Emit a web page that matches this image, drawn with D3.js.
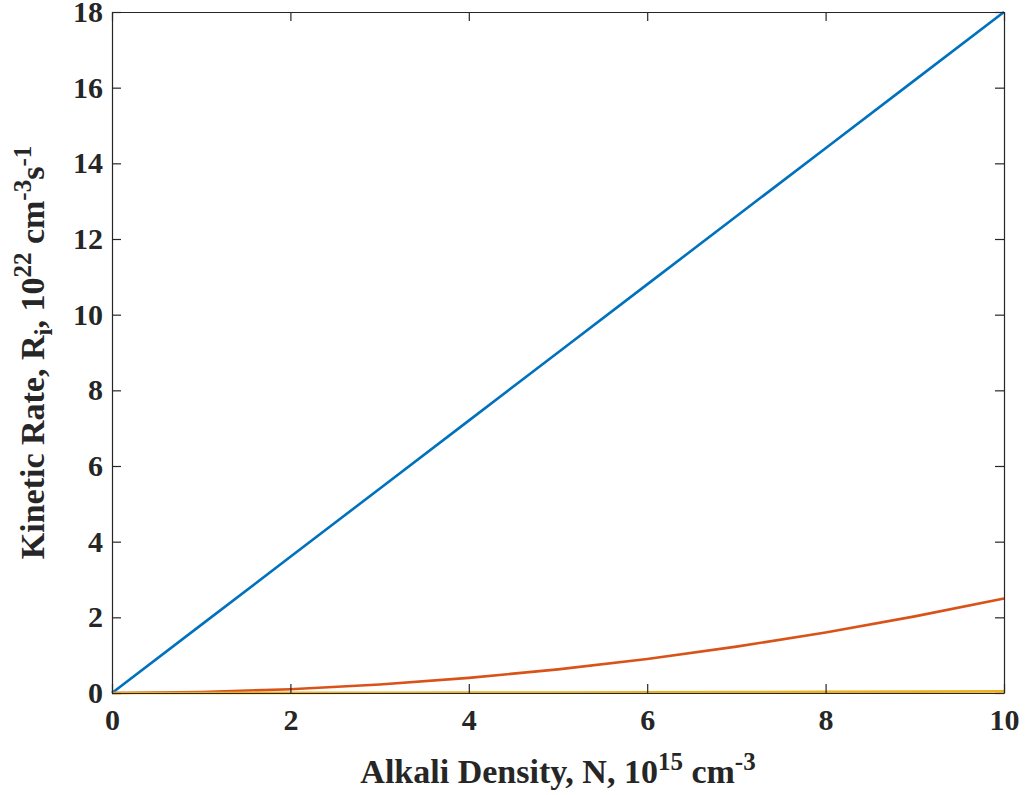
<!DOCTYPE html>
<html>
<head>
<meta charset="utf-8">
<script src="https://cdn.jsdelivr.net/npm/d3@7"></script>
<style>
  html, body { margin: 0; padding: 0; background: #fff; }
  text { font-family: "Liberation Serif", "Times New Roman", serif; font-weight: bold; fill: #262626; }
</style>
</head>
<body>
<svg id="chart" width="1026" height="795"></svg>
<script>
const densityN = [0, 1, 2, 3, 4, 5, 6, 7, 8, 9, 10];
const rateBlue = [0, 1.8, 3.6, 5.4, 7.2, 9.0, 10.8, 12.6, 14.4, 16.2, 18.0];
const rateOrange = [0, 0.025, 0.1, 0.225, 0.4, 0.625, 0.9, 1.225, 1.6, 2.025, 2.5];
const rateYellow = [0, 0.001, 0.003, 0.006, 0.01, 0.014, 0.019, 0.024, 0.03, 0.036, 0.042];
const xTicks = [0, 2, 4, 6, 8, 10];
const yTicks = [0, 2, 4, 6, 8, 10, 12, 14, 16, 18];
const seriesColors = ["#0072BD", "#D95319", "#EDB120"];

(function () {
const svg = d3.select("#chart");
const mLeft = 112, mRight = 1004, mTop = 12, mBottom = 693;
const x = d3.scaleLinear().domain([0, 10]).range([mLeft, mRight]);
const y = d3.scaleLinear().domain([0, 18]).range([mBottom, mTop]);
const axisColor = "#262626";
const tickLen = 9;

// lines
const series = [rateBlue, rateOrange, rateYellow];
const line = d3.line().x((d, i) => x(densityN[i])).y(d => y(d));
series.forEach((s, k) => {
  svg.append("path").datum(s)
    .attr("d", line)
    .attr("fill", "none")
    .attr("stroke", seriesColors[k])
    .attr("stroke-width", 2.6)
    .attr("stroke-linejoin", "round");
});

// axes
const fmt = d3.format("d");
const gB = svg.append("g").attr("transform", `translate(0,${mBottom})`)
  .call(d3.axisBottom(x).tickValues(xTicks).tickFormat(fmt).tickSizeInner(-tickLen).tickSizeOuter(0).tickPadding(16));
const gT = svg.append("g").attr("transform", `translate(0,${mTop})`)
  .call(d3.axisTop(x).tickValues(xTicks).tickFormat("").tickSizeInner(-tickLen).tickSizeOuter(0));
const gL = svg.append("g").attr("transform", `translate(${mLeft},0)`)
  .call(d3.axisLeft(y).tickValues(yTicks).tickFormat(fmt).tickSizeInner(-tickLen).tickSizeOuter(0).tickPadding(9));
const gR = svg.append("g").attr("transform", `translate(${mRight},0)`)
  .call(d3.axisRight(y).tickValues(yTicks).tickFormat("").tickSizeInner(-tickLen).tickSizeOuter(0));

[gB, gT, gL, gR].forEach(g => {
  g.attr("font-family", null).attr("font-size", null);
  g.select(".domain").attr("stroke", axisColor).attr("stroke-width", 1.2);
  g.selectAll(".tick line").attr("stroke", axisColor).attr("stroke-width", 1.2);
  g.selectAll(".tick text").attr("font-size", 30)
    .attr("font-weight", "bold").attr("fill", axisColor);
});

// x label
const xl = svg.append("text")
  .attr("x", (mLeft + mRight) / 2).attr("y", 783)
  .attr("text-anchor", "middle").attr("font-size", 34);
xl.append("tspan").text("Alkali Density, N, 10");
xl.append("tspan").attr("font-size", 25).attr("dy", -13).text("15");
xl.append("tspan").attr("dy", 13).text(" cm");
xl.append("tspan").attr("font-size", 25).attr("dy", -13).text("-3");

// y label
const yl = svg.append("text")
  .attr("transform", `translate(44,${(mTop + mBottom) / 2}) rotate(-90)`)
  .attr("text-anchor", "middle").attr("font-size", 34);
yl.append("tspan").text("Kinetic Rate, R");
yl.append("tspan").attr("font-size", 25).attr("dy", 8).text("i");
yl.append("tspan").attr("dy", -8).text(", 10");
yl.append("tspan").attr("font-size", 25).attr("dy", -13).text("22");
yl.append("tspan").attr("dy", 13).text(" cm");
yl.append("tspan").attr("font-size", 25).attr("dy", -13).text("-3");
yl.append("tspan").attr("dy", 13).text("s");
yl.append("tspan").attr("font-size", 25).attr("dy", -13).text("-1");
})();
</script>
</body>
</html>
